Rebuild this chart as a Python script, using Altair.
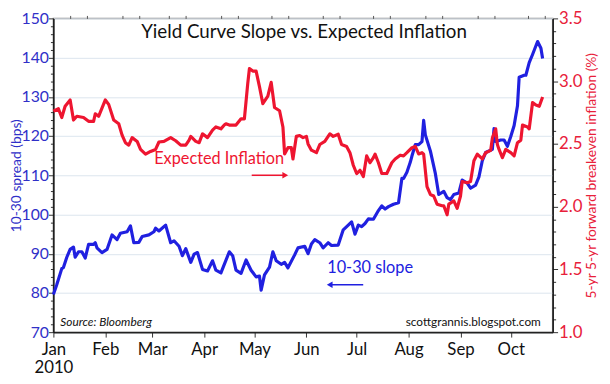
import altair as alt
import pandas as pd

FONT = "Lato"
BLUE = "#2020e0"
RED = "#ee1530"
BLUE_TXT = "#3030c8"
RED_TXT = "#e8203a"

# 10-30 Treasury spread (bps), left axis
blue_dates = ["01-01","01-03","01-06","01-07","01-09","01-11","01-13","01-14","01-16","01-18",
              "01-20","01-22","01-25","01-26","01-27","01-30","02-02","02-05","02-08","02-10",
              "02-14","02-16","02-18","02-21","02-23","02-27","03-02","03-03","03-05","03-09",
              "03-12","03-14","03-17","03-19","03-21","03-24","03-26","03-28","03-31","04-03",
              "04-06","04-08","04-11","04-16","04-18","04-20","04-23","04-26","04-29","05-02",
              "05-04","05-05","05-07","05-10","05-12","05-14","05-17","05-19","05-21","05-25",
              "05-27","05-31","06-02","06-04","06-06","06-09","06-11","06-14","06-16","06-20",
              "06-23","06-26","06-28","06-30","07-02","07-04","07-06","07-08","07-11","07-14",
              "07-16","07-18","07-20","07-23","07-26","07-28","07-29","07-31","08-02","08-03",
              "08-05","08-07","08-09","08-10","08-11","08-14","08-17","08-19","08-22","08-24",
              "08-26","08-28","08-31","09-02","09-05","09-07","09-10","09-12","09-14","09-16",
              "09-20","09-21","09-22","09-25","09-27","09-29","10-01","10-03","10-05","10-06",
              "10-09","10-10","10-12","10-14","10-17","10-19","10-20"]
blue_vals = [79.6,82.1,86.2,86.5,89.1,91.1,91.7,89.1,90.5,90.5,
             88.9,92.4,92.4,92.8,91.5,90.3,91.1,94.8,93.6,95.2,
             95.6,97.1,92.8,92.9,94.4,94.8,95.6,96.5,95.8,97.3,
             92.8,93.3,91.9,89.5,91.3,87.8,89.9,90.3,86.0,85.6,
             88.2,85.8,85.1,90.5,89.5,85.8,85.0,88.4,85.8,84.1,
             84.3,80.7,84.6,86.6,90.5,88.2,87.3,87.8,86.4,89.7,
             91.5,91.9,90.0,92.5,93.6,92.8,91.5,92.8,92.1,92.2,
             96.1,97.3,98.1,95.0,97.3,96.9,97.7,98.9,98.8,101.0,
             102.2,101.4,102.0,102.6,103.0,109.2,109.2,110.8,113.3,114.9,
             117.8,117.8,118.6,124.0,120.3,116.2,110.4,105.1,105.9,104.3,
             103.8,105.1,105.5,108.8,108.0,106.7,107.5,109.6,113.7,115.8,
             116.6,121.9,118.6,119.0,119.0,117.4,119.9,122.7,127.7,135.0,
             135.5,135.5,138.7,140.8,144.1,142.4,139.8]

# 5-yr 5-yr forward breakeven inflation (%), right axis
red_dates = ["01-01","01-04","01-06","01-08","01-11","01-13","01-15","01-19","01-22","01-25",
             "01-26","01-28","02-01","02-03","02-06","02-09","02-11","02-13","02-15","02-17",
             "02-20","02-22","02-25","02-28","03-03","03-05","03-08","03-12","03-15","03-18",
             "03-21","03-23","03-24","03-27","03-29","03-31","04-03","04-06","04-08","04-11",
             "04-13","04-14","04-16","04-20","04-23","04-25","04-27","04-28","04-30","05-02",
             "05-04","05-06","05-09","05-11","05-13","05-16","05-18","05-19","05-21","05-23",
             "05-24","05-26","05-28","05-30","06-01","06-02","06-04","06-07","06-09","06-12",
             "06-15","06-17","06-20","06-22","06-25","06-27","06-29","07-01","07-03","07-05",
             "07-07","07-09","07-11","07-12","07-14","07-16","07-19","07-22","07-24","07-27",
             "07-29","07-31","08-03","08-05","08-07","08-09","08-10","08-12","08-14","08-16",
             "08-18","08-21","08-22","08-24","08-25","08-28","08-30","09-01","09-02","09-05",
             "09-07","09-09","09-11","09-14","09-16","09-19","09-20","09-22","09-23","09-24",
             "09-26","09-28","10-01","10-03","10-05","10-07","10-08","10-11","10-12","10-14",
             "10-16","10-18","10-20"]
red_vals = [2.76,2.78,2.71,2.80,2.85,2.69,2.72,2.71,2.68,2.68,
            2.74,2.72,2.85,2.815,2.69,2.66,2.57,2.51,2.49,2.55,
            2.52,2.456,2.418,2.44,2.456,2.515,2.52,2.55,2.525,2.49,
            2.49,2.53,2.56,2.52,2.51,2.58,2.55,2.61,2.635,2.62,
            2.65,2.66,2.65,2.65,2.70,2.70,2.98,3.10,3.08,3.08,
            2.956,2.82,2.88,2.99,2.79,2.764,2.635,2.42,2.47,2.47,
            2.38,2.56,2.567,2.55,2.56,2.50,2.45,2.43,2.495,2.52,
            2.58,2.56,2.577,2.495,2.48,2.43,2.33,2.264,2.29,2.24,
            2.405,2.35,2.39,2.418,2.35,2.264,2.264,2.35,2.38,2.41,
            2.405,2.43,2.47,2.48,2.42,2.43,2.418,2.16,2.097,2.085,
            2.02,2.007,2.007,1.935,2.02,2.046,1.987,2.085,2.2,2.19,
            2.2,2.366,2.418,2.38,2.43,2.448,2.546,2.62,2.495,2.456,
            2.39,2.456,2.43,2.405,2.51,2.53,2.65,2.635,2.62,2.83,
            2.81,2.80,2.874]

tick_months = [1, 2, 3, 4, 5, 6, 7, 8, 9, 10]
minor_days = [11, 21]
left_ticks = [70 + 2 * i for i in range(41)]                 # major every 10, minor every 2
right_ticks = [round(1.0 + 0.1 * i, 1) for i in range(26)]   # major every 0.5

blue_df = pd.DataFrame({"date": ["2010-" + d for d in blue_dates], "spread": blue_vals})
red_df = pd.DataFrame({"date": ["2010-" + d for d in red_dates], "infl": red_vals})

x_dom = [alt.DateTime(year=2010, month=1, date=1, utc=True),
         alt.DateTime(year=2010, month=10, date=26, utc=True)]
major_x = [alt.DateTime(year=2010, month=m, date=1, utc=True) for m in tick_months]
minor_x = [alt.DateTime(year=2010, month=m, date=d, utc=True)
           for m in tick_months for d in minor_days]

x_major = alt.X("date:T",
                scale=alt.Scale(type="utc", domain=x_dom),
                axis=alt.Axis(values=major_x, format="%b", title=None,
                              labelExpr="datum.label == 'Jan' ? ['Jan', '2010'] : datum.label",
                              labelFont=FONT, labelFontSize=17, labelColor="#111",
                              labelLineHeight=18, labelPadding=5, tickSize=5,
                              tickColor="#333", domainColor="#222", domainWidth=1.5,
                              grid=False, labelFlush=False))
x_minor = alt.X("date:T",
                axis=alt.Axis(values=minor_x, labels=False, title=None, tickSize=3,
                              tickColor="#555", domain=False, grid=False))

blue_line = alt.Chart(blue_df).mark_line(color=BLUE, strokeWidth=3.2, strokeJoin="round").encode(
    x=x_major,
    y=alt.Y("spread:Q",
            scale=alt.Scale(domain=[70, 150], nice=False, zero=False),
            axis=alt.Axis(values=left_ticks, title="10-30 spread (bps)", orient="left",
                          labelExpr="datum.value % 10 === 0 ? datum.label : ''",
                          labelFont=FONT, labelFontSize=16, labelColor=BLUE_TXT, labelPadding=0,
                          labelOverlap=False,
                          titleFont=FONT, titleFontSize=14, titleFontWeight="normal",
                          titleColor=BLUE_TXT, titleX=-37, titleY=159,
                          titleAlign="center", titleBaseline="middle", titleAngle=270,
                          tickSize={"condition": {"test": "datum.value % 10 === 0", "value": 5}, "value": 3},
                          tickColor="#333", domainColor="#111", domainWidth=1.5,
                          grid=True, gridColor="#dbe5ee", gridWidth=1,
                          gridOpacity={"condition": {"test": "datum.value % 10 === 0", "value": 1}, "value": 0}))
)

red_line = alt.Chart(red_df).mark_line(color=RED, strokeWidth=3.2, strokeJoin="round").encode(
    x=x_minor,
    y=alt.Y("infl:Q",
            scale=alt.Scale(domain=[1.0, 3.5], nice=False, zero=False),
            axis=alt.Axis(values=right_ticks, title="5-yr 5-yr forward breakeven inflation (%)",
                          orient="right", format=".1f",
                          labelExpr="abs(datum.value * 2 - round(datum.value * 2)) < 0.001 ? datum.label : ''",
                          labelFont=FONT, labelFontSize=17, labelColor=RED_TXT, labelPadding=1,
                          labelOverlap=False,
                          titleFont=FONT, titleFontSize=14, titleFontWeight="normal",
                          titleColor=RED_TXT, titleX=39, titleY=159,
                          titleAlign="center", titleBaseline="middle", titleAngle=270,
                          tickSize={"condition": {"test": "abs(datum.value * 2 - round(datum.value * 2)) < 0.001", "value": 5}, "value": 3},
                          tickColor="#333", domainColor="#111", domainWidth=1.5,
                          grid=False))
)

one = pd.DataFrame({"k": [0]})

title_txt = alt.Chart(one).mark_text(
    text="Yield Curve Slope vs. Expected Inflation", font=FONT, fontSize=19, color="#111",
    align="center", baseline="middle").encode(x=alt.value(254), y=alt.value(14))

ei_txt = alt.Chart(one).mark_text(
    text="Expected Inflation", font=FONT, fontSize=16.5, color=RED,
    align="center", baseline="middle").encode(x=alt.value(168), y=alt.value(143))
ei_arrow = alt.Chart(one).mark_rule(color=RED, strokeWidth=1.5).encode(
    x=alt.value(201), x2=alt.value(233), y=alt.value(159))
ei_head = alt.Chart(one).mark_point(shape="triangle-right", filled=True, color=RED,
                                    size=45, opacity=1).encode(x=alt.value(235), y=alt.value(159))

sl_txt = alt.Chart(one).mark_text(
    text="10-30 slope", font=FONT, fontSize=16.5, color=BLUE,
    align="center", baseline="middle").encode(x=alt.value(321), y=alt.value(253))
sl_arrow = alt.Chart(one).mark_rule(color=BLUE, strokeWidth=1.5).encode(
    x=alt.value(282), x2=alt.value(314), y=alt.value(270))
sl_head = alt.Chart(one).mark_point(shape="triangle-left", filled=True, color=BLUE,
                                    size=45, opacity=1).encode(x=alt.value(280), y=alt.value(270))

src_txt = alt.Chart(one).mark_text(
    text="Source: Bloomberg", font=FONT, fontSize=12, fontStyle="italic", color="#111",
    align="left", baseline="middle").encode(x=alt.value(7), y=alt.value(308))
web_txt = alt.Chart(one).mark_text(
    text="scottgrannis.blogspot.com", font=FONT, fontSize=12, color="#111",
    align="right", baseline="middle").encode(x=alt.value(494), y=alt.value(308))

chart = alt.layer(
    blue_line, red_line, title_txt, ei_txt, ei_arrow, ei_head,
    sl_txt, sl_arrow, sl_head, src_txt, web_txt
).resolve_scale(y="independent", x="shared").resolve_axis(x="independent").properties(
    width=506, height=318,
    padding={"left": 46, "top": 8, "right": 50, "bottom": 50},
    autosize=alt.AutoSizeParams(type="none"),
    background="white",
).configure_view(stroke="#8a8a8a", strokeWidth=1.5)

chart.save("out.html", embed_options={"renderer": "svg", "actions": False})
